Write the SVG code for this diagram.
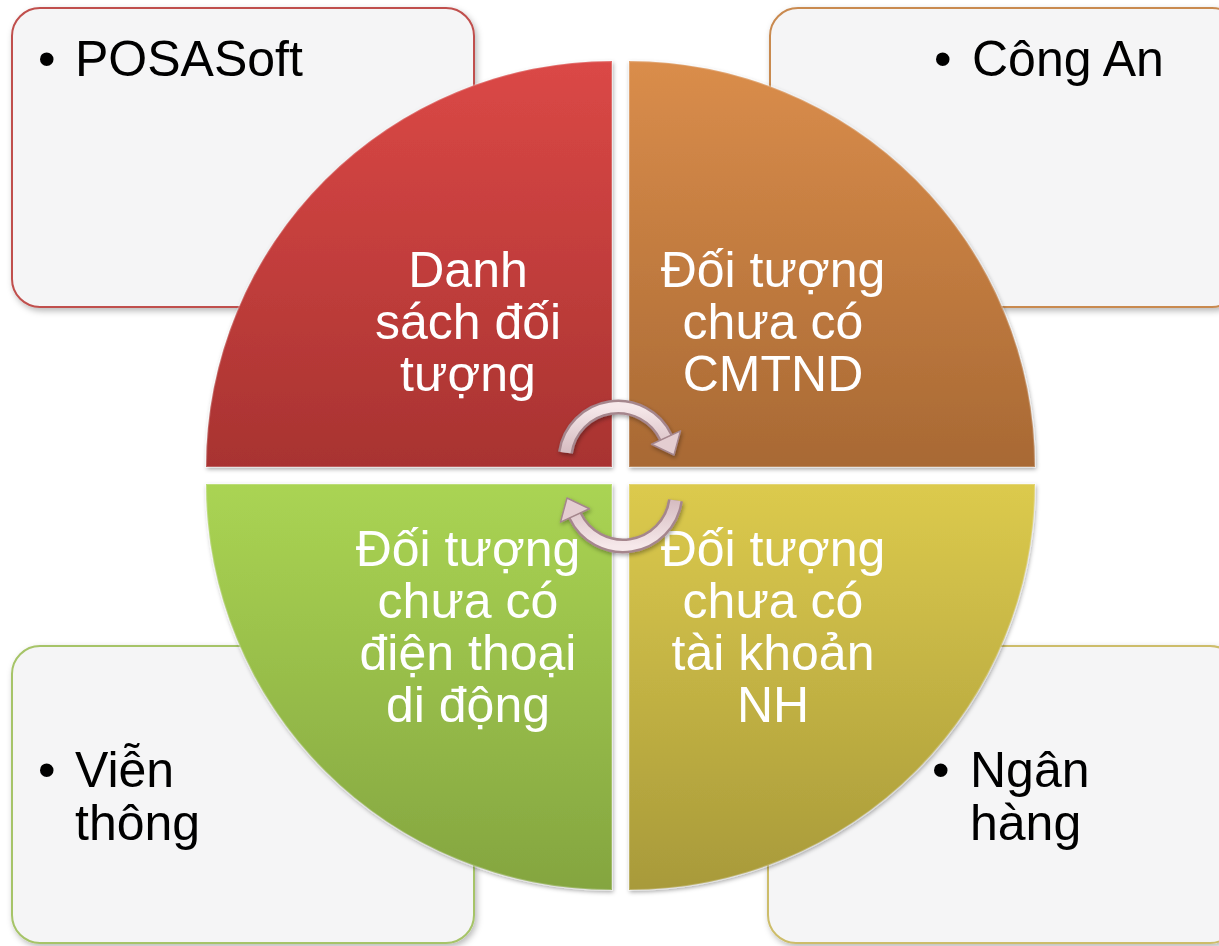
<svg xmlns="http://www.w3.org/2000/svg" width="1219" height="946" viewBox="0 0 1219 946">
<style>
.box{fill:#F5F5F6;stroke-width:2}
.btxt{font-family:"Liberation Sans",Arial,sans-serif;font-size:50px;fill:#000}
.qtxt{font-family:"Liberation Sans",Arial,sans-serif;font-size:50px;fill:#fff;text-anchor:middle}
.q{stroke:#ffffff;stroke-opacity:0.22;stroke-width:2}
.arcO{fill:none;stroke:#A5868D;stroke-width:15}
.arcI{fill:none;stroke:url(#gArr);stroke-width:10}
.head{fill:#E4CDD1;stroke:#A5868D;stroke-width:1.5;stroke-linejoin:round}
</style>
<defs>
<filter id="sh" x="-10%" y="-10%" width="120%" height="120%">
<feDropShadow dx="2" dy="3" stdDeviation="3" flood-color="#000" flood-opacity="0.28"/>
</filter>
<filter id="sh2" x="-20%" y="-20%" width="140%" height="140%">
<feDropShadow dx="1" dy="2" stdDeviation="2" flood-color="#000" flood-opacity="0.35"/>
</filter>
<linearGradient id="gRed" x1="0" y1="0" x2="0" y2="1"><stop offset="0" stop-color="#DB4846"/><stop offset="1" stop-color="#A83331"/></linearGradient>
<linearGradient id="gOra" x1="0" y1="0" x2="0" y2="1"><stop offset="0" stop-color="#DA8D4B"/><stop offset="1" stop-color="#A86934"/></linearGradient>
<linearGradient id="gGrn" x1="0" y1="0" x2="0" y2="1"><stop offset="0" stop-color="#AAD453"/><stop offset="1" stop-color="#84A540"/></linearGradient>
<linearGradient id="gYel" x1="0" y1="0" x2="0" y2="1"><stop offset="0" stop-color="#DCCA4D"/><stop offset="1" stop-color="#A89A3A"/></linearGradient>
<linearGradient id="gArr" x1="0" y1="0" x2="0" y2="1"><stop offset="0" stop-color="#F6E8EA"/><stop offset="1" stop-color="#D6BCC1"/></linearGradient>
</defs>

<g id="box-posasoft" filter="url(#sh)">
<rect class="box" x="12" y="8" width="462" height="299" rx="28" stroke="#C0504D"/>
<text class="btxt" x="38" y="76">•</text>
<text class="btxt" x="75" y="76">POSASoft</text>
</g>
<g id="box-congan" filter="url(#sh)">
<rect class="box" x="770" y="8" width="470" height="299" rx="28" stroke="#C98A50"/>
<text class="btxt" x="934" y="76">•</text>
<text class="btxt" x="972" y="76">Công An</text>
</g>
<g id="box-vienthong" filter="url(#sh)">
<rect class="box" x="12" y="646" width="462" height="297" rx="28" stroke="#A6C468"/>
<text class="btxt" x="38" y="787">•</text>
<text class="btxt" x="75" y="787">Viễn</text>
<text class="btxt" x="75" y="840">thông</text>
</g>
<g id="box-nganhang" filter="url(#sh)">
<rect class="box" x="768" y="646" width="470" height="297" rx="28" stroke="#CDBD6A"/>
<text class="btxt" x="932" y="787">•</text>
<text class="btxt" x="970" y="787">Ngân</text>
<text class="btxt" x="970" y="840">hàng</text>
</g>

<g id="q-danhsach" filter="url(#sh2)">
<path class="q" d="M612,467 L206,467 A406,406 0 0 1 612,61 Z" fill="url(#gRed)"/>
<text class="qtxt" x="468" y="287">Danh</text>
<text class="qtxt" x="468" y="339">sách đối</text>
<text class="qtxt" x="468" y="391">tượng</text>
</g>
<g id="q-cmtnd" filter="url(#sh2)">
<path class="q" d="M629,467 L629,61 A406,406 0 0 1 1035,467 Z" fill="url(#gOra)"/>
<text class="qtxt" x="773" y="287">Đối tượng</text>
<text class="qtxt" x="773" y="339">chưa có</text>
<text class="qtxt" x="773" y="391">CMTND</text>
</g>
<g id="q-dienthoai" filter="url(#sh2)">
<path class="q" d="M612,484 L612,890 A406,406 0 0 1 206,484 Z" fill="url(#gGrn)"/>
<text class="qtxt" x="468" y="566">Đối tượng</text>
<text class="qtxt" x="468" y="618">chưa có</text>
<text class="qtxt" x="468" y="670">điện thoại</text>
<text class="qtxt" x="468" y="722">di động</text>
</g>
<g id="q-taikhoan" filter="url(#sh2)">
<path class="q" d="M629,484 L1035,484 A406,406 0 0 1 629,890 Z" fill="url(#gYel)"/>
<text class="qtxt" x="773" y="566">Đối tượng</text>
<text class="qtxt" x="773" y="618">chưa có</text>
<text class="qtxt" x="773" y="670">tài khoản</text>
<text class="qtxt" x="773" y="722">NH</text>
</g>

<g id="connectors" filter="url(#sh2)">
<g id="arrow-top">
<path class="arcO" d="M565.5,452.6 A53,53 0 0 1 666,437.6"/>
<path class="arcI" d="M565.5,452.6 A53,53 0 0 1 666,437.6"/>
<polygon class="head" points="680.5,430.9 674,455 651.5,444.3"/>
</g>
<g id="arrow-bottom" transform="rotate(180 620.5 476.5)">
<path class="arcO" d="M565.5,452.6 A53,53 0 0 1 666,437.6"/>
<path class="arcI" d="M565.5,452.6 A53,53 0 0 1 666,437.6"/>
<polygon class="head" points="680.5,430.9 674,455 651.5,444.3"/>
</g>
</g>
</svg>
